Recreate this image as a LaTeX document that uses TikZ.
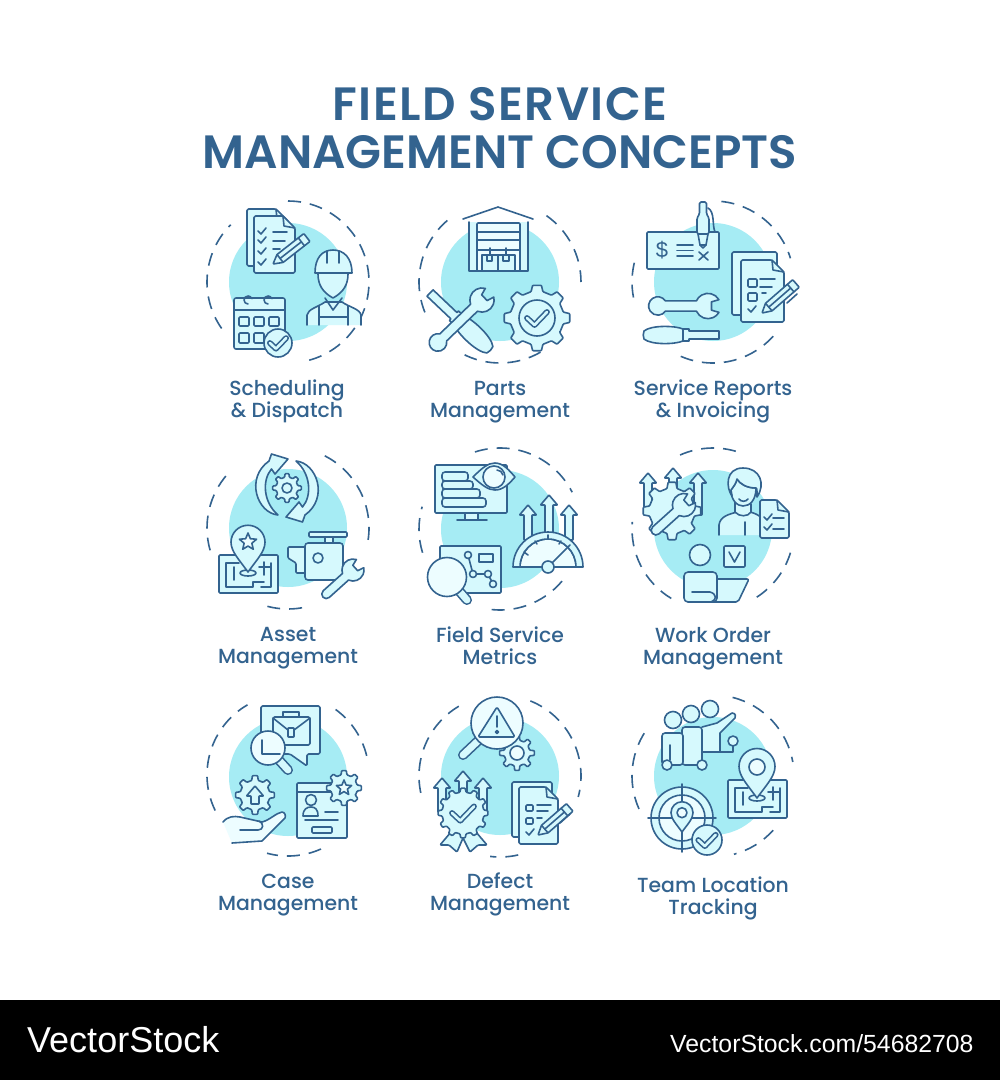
\documentclass[tikz,border=0pt]{standalone}
\usepackage{fontspec}
\setmainfont{Poppins}
\newfontfamily\headfont{Poppins SemiBold}
\newfontfamily\labelfont{Poppins Medium}
\newfontfamily\markfont{Liberation Sans}
\definecolor{inkblue}{HTML}{33638F}
\definecolor{blobblue}{HTML}{A6ECF4}
\definecolor{tintblue}{HTML}{D6F9FD}
\definecolor{paleblue}{HTML}{EDFDFF}

% background disc and broken ring
\newcommand{\spot}[2]{\fill[blob] (#1,#2) circle[radius=59];}
\newcommand{\ringarc}[4]{\draw[ring] (#1,#2) ++(#3:81) arc[start angle=#3,end angle=#4,radius=81];}

% small parts
\newcommand{\sheet}[4]{
    \draw[tint,rounded corners=1.5pt] (#1,#2) -- ({#3-12},#2) -- (#3,{#2+12}) -- (#3,#4) -- (#1,#4) -- cycle;
    \draw[ink] ({#3-12},#2) -- ({#3-11},{#2+10}) -- (#3,{#2+12});
}
\newcommand{\pencil}[4]{
    \begin{scope}[shift={(#1,#2)},rotate=#3]
        \draw[tint,rounded corners=.8pt] (0,0) -- (9,-5) -- (#4,-5) -- (#4,5) -- (9,5) -- cycle;
        \draw[ink] ({#4-7},-5) -- ({#4-7},5) (9,-5) -- (9,5);
        \draw[ink] (9,0) -- ({#4-7},0);
    \end{scope}
}
\newcommand{\spanner}[5]{
    \begin{scope}[shift={(#1,#2)},rotate=#3,scale=#4]
        \draw[tint] (9.5,-5.5) arc[start angle=330,end angle=204,radius=11] -- (-#5,-4.5)
            arc[start angle=270,end angle=90,radius=4.5] -- (-10.05,4.5)
            arc[start angle=156,end angle=30,radius=11] -- (3,3.6) -- (3,-3.6) -- cycle;
    \end{scope}
}
\newcommand{\ballspanner}[5]{
    \begin{scope}[shift={(#1,#2)},rotate=#3,scale=#4]
        \draw[tint] (9.5,-5.5) arc[start angle=330,end angle=204,radius=11] -- (-#5,-4.5)
            arc[start angle=326,end angle=34,radius=8] -- (-10.05,4.5)
            arc[start angle=156,end angle=30,radius=11] -- (3,3.6) -- (3,-3.6) -- cycle;
    \end{scope}
}
\newcommand{\driver}[4]{
    \begin{scope}[shift={(#1,#2)},rotate=#3,scale=#4]
        \draw[tint] (0,-4) -- (-30,-4) -- (-30,-6) -- (-36,-6)
            .. controls (-44,-9.5) and (-68,-10) .. (-75,-4) .. controls (-76,-1) and (-76,1) .. (-75,4)
            .. controls (-68,10) and (-44,9.5) .. (-36,6) -- (-30,6) -- (-30,4) -- (0,4) -- cycle;
        \draw[ink] (-36,-6) -- (-36,6);
    \end{scope}
}
\newcommand{\gear}[5]{
    \begin{scope}[shift={(#1,#2)}]
        \pgfmathsetmacro{\gs}{360/#5}
        \draw[tint,rounded corners=.8pt] ({.72*\gs}:#4)
            \foreach \t [evaluate=\t as \a using \t*\gs] in {1,...,#5}{
                -- ({\a-.28*\gs}:#4) -- ({\a-.17*\gs}:#3) -- ({\a+.17*\gs}:#3) -- ({\a+.28*\gs}:#4)
            } -- cycle;
    \end{scope}
}
\newcommand{\hollowtick}[3]{
    \foreach \lw/\cc in {5.8/inkblue,2.6/tintblue}{
        \draw[\cc,line width=\lw pt,line cap=round,line join=round] ({#1-#3},#2) -- ({#1-.25*#3},{#2+.7*#3}) -- ({#1+#3},{#2-.6*#3});
    }
}
\newcommand{\badge}[3]{
    \draw[tint] (#1,#2) circle[radius=#3];
    \hollowtick{#1}{#2}{.58*#3}
}
\newcommand{\tick}[2]{\draw[ink] (#1,#2) -- ({#1+3},{#2+3}) -- ({#1+8},{#2-3});}
\newcommand{\updart}[3]{
    \draw[tint,rounded corners=.5pt] (#1,#2) -- ({#1+8.5},{#2+10}) -- ({#1+4},{#2+10}) -- ({#1+4},#3)
        -- ({#1-4},#3) -- ({#1-4},{#2+10}) -- ({#1-8.5},{#2+10}) -- cycle;
}
\newcommand{\pinmark}[3]{
    \begin{scope}[shift={(#1,#2)},scale=#3]
        \draw[tint] (0,0) .. controls (-.5,-.7) and (-1,-1.2) .. (-1,-1.75)
            arc[start angle=180,end angle=360,radius=1] .. controls (1,-1.2) and (.5,-.7) .. (0,0) -- cycle;
    \end{scope}
}
\newcommand{\starmark}[3]{
    \begin{scope}[shift={(#1,#2)}]
        \draw[tint,fill=paleblue] (270:#3) \foreach \t [evaluate=\t as \a using 270+\t*36, evaluate=\t as \r using {isodd(\t) ? .45*#3 : #3}] in {1,...,9}{ -- (\a:\r) } -- cycle;
    \end{scope}
}
\newcommand{\plan}[2]{
    \begin{scope}[shift={(#1,#2)}]
        \draw[tint,rounded corners=1pt] (0,0) rectangle (59,38);
        \draw[ink] (20,8) -- (7,8) -- (7,32) -- (34,32) -- (34,27) -- (45,27);
        \draw[ink] (15,12) -- (15,25);
        \draw[ink] (45,7) -- (45,20) (40,12) -- (52,12) (52,8) -- (52,32) -- (42,32);
    \end{scope}
}
\newcommand{\lens}[5]{
    \draw[inkblue,line width=10pt,line cap=round] (#1,#2) -- (#4,#5);
    \draw[tintblue,line width=6.8pt,line cap=round] (#1,#2) -- (#4,#5);
    \draw[ink,fill=paleblue] (#1,#2) circle[radius=#3];
}

\begin{document}
\begin{tikzpicture}[
    x=1pt, y=-1pt,
    blob/.style={fill=blobblue, draw=none},
    ring/.style={draw=inkblue, line width=1.6pt, dash pattern=on 13pt off 9pt},
    ink/.style={draw=inkblue, line width=1.6pt, line join=round, line cap=round},
    tint/.style={ink, fill=tintblue},
    headline/.style={text=inkblue, align=center, inner sep=0pt, font=\headfont\fontsize{46.7}{48}\selectfont},
    caption/.style={text=inkblue, align=center, inner sep=0pt, font=\labelfont\fontsize{20.4}{22}\selectfont},
    brand/.style={text=white, inner sep=0pt, anchor=base west, font=\markfont}
]
    \useasboundingbox (0,0) rectangle (1000,1080);
    \fill[white] (0,0) rectangle (1000,1000);
    \fill[black] (0,1000) rectangle (1000,1080);

    % Title
    \node[headline] (title) at (500,128) {{\addfontfeatures{LetterSpace=3.2}FIELD SERVICE}\\MANAGEMENT CONCEPTS};

    % Scheduling
    \spot{288}{282}
    \ringarc{288}{282}{270}{440}
    \ringarc{288}{282}{145}{225}
    \sheet{247}{209}{288}{266}
    \sheet{254}{216}{295}{273}
    \tick{258}{231} \tick{258}{240} \tick{258}{251} \tick{258}{262}
    \draw[ink] (273,232) -- (287,232) (273,241) -- (285,241) (273,249) -- (280,249);
    \pencil{273}{264}{38}{43}
    \draw[tint] (315,273) .. controls (315,258) and (322,250) .. (333,250) .. controls (344,250) and (352,258) .. (352,273) -- cycle;
    \draw[ink] (327,251) -- (327,263) (339,251) -- (339,263);
    \draw[ink,fill=tintblue] (307,325) -- (307,315) .. controls (308,309) and (318,307) .. (325,302) -- (342,302)
        .. controls (349,307) and (360,309) .. (361,315) -- (361,325);
    \draw[ink,fill=tintblue] (318,274) .. controls (318,284) and (322,292) .. (333,298) .. controls (344,292) and (348,284) .. (348,274);
    \draw[ink] (325,298) -- (333,310) -- (342,298);
    \draw[ink] (319,306) -- (319,325) (348,306) -- (348,325) (319,317) -- (348,317);
    \draw[tint,rounded corners=2pt] (234,298) rectangle (285,349);
    \draw[ink] (234,310) -- (285,310);
    \draw[ink] (248,304) arc[start angle=90,end angle=340,radius=4] (268,304) arc[start angle=90,end angle=340,radius=4];
    \foreach \cx in {239,254,269}{
        \draw[ink,rounded corners=1pt] (\cx,317) rectangle ++(10,9);
    }
    \foreach \cx in {239,254}{
        \draw[ink,rounded corners=1pt] (\cx,333) rectangle ++(10,10);
    }
    \badge{278}{343}{14}
    \node[caption] (scheduling) at (287,401) {Scheduling\\\& Dispatch};

    % Parts
    \spot{500}{282}
    \ringarc{500}{282}{305}{360}
    \ringarc{500}{282}{60}{118}
    \ringarc{500}{282}{158}{232}
    \draw[tint] (469,222) -- (469,271) -- (528,271) -- (528,222);
    \draw[ink] (463,219) -- (498,207) -- (533,219);
    \draw[ink,fill=paleblue,rounded corners=1pt] (477,223) rectangle (520,271);
    \draw[ink] (477,232) -- (520,232) (477,240) -- (520,240) (477,250) -- (520,250);
    \draw[tint] (482,255) rectangle (498,271) (498,255) rectangle (515,271);
    \draw[ink] (487,255) -- (487,261) -- (492,261) -- (492,255) (503,255) -- (503,261) -- (509,261) -- (509,255);
    \draw[ink] (490,248) -- (490,255) (506,248) -- (506,255);
    \driver{430}{293}{136.5}{1.1}
    \ballspanner{482}{300}{44}{1.1}{49}
    \gear{537}{318}{33}{27}{8}
    \draw[tint] (537,318) circle[radius=18];
    \hollowtick{537}{318}{10}
    \node[caption] (parts) at (500,402) {Parts\\Management};

    % Service Reports
    \spot{713}{282}
    \ringarc{713}{282}{276}{343}
    \ringarc{713}{282}{42}{118}
    \ringarc{713}{282}{169}{196}
    \draw[tint,rounded corners=1pt] (647,232) rectangle (719,269);
    \node[inkblue,font=\markfont\fontsize{22}{22}\selectfont,inner sep=0pt] (dollar) at (662,250) {\$};
    \draw[ink] (677,245) -- (693,245) (677,250.5) -- (693,250.5) (677,256) -- (693,256);
    \draw[ink] (699,252) -- (708,260) (708,252) -- (699,260);
    \draw[ink] (708,208) .. controls (715,212) and (712,225) .. (715,232);
    \draw[tint,rounded corners=1.5pt] (699.5,214) -- (699.5,202) -- (706.5,202) -- (706.5,214) -- (709,218) -- (709,234) -- (697,234) -- (697,218) -- cycle;
    \draw[tint] (698,234) -- (700,245) -- (703,248) -- (706,245) -- (708,234) -- cycle;
    \draw[ink] (700,245) -- (706,245);
    \draw[tint,rounded corners=1.5pt] (732,252) rectangle (777,315);
    \sheet{741}{260}{784}{322}
    \draw[ink,rounded corners=1pt] (748,279) rectangle (757,287) (748,293) rectangle (757,301);
    \draw[ink] (760,279) -- (775,279) (760,287) -- (772,287) (762,293) -- (766,293);
    \tick{748}{309}
    \pencil{762}{313}{41}{45}
    \draw[ink] (787,303) -- (797,294);
    \ballspanner{708}{306}{0}{1.15}{37}
    \driver{719}{335}{0}{1}
    \node[caption] (reports) at (713,401) {Service Reports\\\& Invoicing};

    % Asset
    \spot{288}{528}
    \ringarc{288}{528}{297}{369}
    \ringarc{288}{528}{80}{109}
    \ringarc{288}{528}{164}{222}
    \gear{287}{488}{14.5}{11}{8}
    \draw[ink] (287,488) circle[radius=5];
    \begin{scope}[shift={(287,488)}]
        \foreach \turn in {0,180}{
            \draw[tint,rotate=\turn] (-9,27) .. controls (-30,25) and (-42,-10) .. (-18,-27) -- (-15.5,-34) -- (1,-29) -- (-12,-14) -- (-15.5,-19) .. controls (-25,-8) and (-24,14) .. (-9,27) -- cycle;
        }
    \end{scope}
    \plan{219}{555}
    \draw[tint] (248,573) ellipse[x radius=8,y radius=3];
    \pinmark{248}{572}{17}
    \starmark{248}{542}{9}
    \draw[tint,rounded corners=1pt] (309,532) rectangle (347,537);
    \draw[tint] (325,537) rectangle (333,543);
    \draw[tint,rounded corners=1pt] (288,547) -- (305,547) -- (305,573) -- (296,573) -- (296,563) -- (288,558) -- cycle;
    \draw[tint,rounded corners=3pt] (305,543) rectangle (343,580);
    \draw[tint] (318,558) circle[radius=5];
    \spanner{353}{570}{42}{1}{36}
    \node[caption] (asset) at (288,648) {Asset\\Management};

    % Field Service Metrics
    \spot{500}{529}
    \ringarc{500}{529}{252}{333}
    \ringarc{500}{529}{40}{100}
    \ringarc{500}{529}{163}{196}
    \draw[tint,rounded corners=1pt] (435,465) rectangle (507,513);
    \draw[tint] (465,513) rectangle (478,520);
    \draw[ink] (457,520) -- (487,520);
    \draw[tint,rounded corners=3pt] (442,472) -- (468,472) -- (468,481) -- (442,481) -- cycle;
    \draw[tint,rounded corners=3pt] (442,481) -- (473,481) -- (473,489) -- (442,489) -- cycle;
    \draw[tint,rounded corners=3pt] (442,489) -- (480,489) -- (480,498) -- (442,498) -- cycle;
    \draw[tint,rounded corners=3pt] (442,498) -- (486,498) -- (486,507) -- (442,507) -- cycle;
    \draw[tint] (473,477) .. controls (482,468) and (488,463) .. (495,463) .. controls (503,463) and (509,470) .. (515,477)
        .. controls (509,484) and (503,490) .. (495,490) .. controls (488,490) and (482,485) .. (473,477) -- cycle;
    \draw[ink,fill=paleblue] (494,477) circle[radius=11];
    \draw[ink] (497,470) arc[start angle=270,end angle=350,radius=6];
    \draw[tint,rounded corners=1pt] (440,546) rectangle (501,593);
    \draw[ink] (468,555) -- (473,574) -- (488,574) -- (493,584);
    \foreach \gx/\gy in {468/555,473/574,488/574,493/584}{
        \draw[tint] (\gx,\gy) circle[radius=3.5];
    }
    \draw[ink] (479,554) rectangle (493,562);
    \lens{447}{577}{19.5}{467}{600}
    \updart{528}{505}{540}
    \updart{549}{495}{540}
    \updart{569}{505}{540}
    \draw[ink,fill=paleblue] (520,567) arc[start angle=180,end angle=360,radius=28] -- cycle;
    \draw[tint] (513,567) arc[start angle=180,end angle=360,radius=35] -- (576,567) arc[start angle=360,end angle=180,radius=28] -- cycle;
    \draw[ink] (552,563) -- (570,545);
    \draw[ink] (528,555) -- (524,552) (537,544) -- (535,541) (548,539) -- (548,535) (559,544) -- (561,541);
    \draw[tint] (548,567) circle[radius=6];
    \node[caption] (metrics) at (500,646) {Field Service\\Metrics};

    % Work Order
    \spot{713}{529}
    \ringarc{713}{529}{246}{292}
    \ringarc{713}{529}{17}{58}
    \ringarc{713}{529}{121}{185}
    \updart{648}{473}{515}
    \updart{673}{468}{495}
    \updart{698}{473}{515}
    \gear{672}{511}{29}{23}{8}
    \spanner{684}{505}{42}{1.05}{36}
    \draw[tint] (719,535) -- (719,525) .. controls (720,516) and (730,514) .. (737,512) -- (750,512)
        .. controls (758,514) and (764,518) .. (765,525) -- (765,535);
    \draw[ink] (745,522) -- (745,535);
    \draw[ink,fill=tintblue] (735,500) -- (735,512) .. controls (739,517) and (748,517) .. (751,512) -- (751,504);
    \draw[tint] (731,490) .. controls (731,500) and (737,506) .. (743,506) .. controls (750,506) and (756,500) .. (756,488)
        .. controls (747,488) and (740,484) .. (737,479) .. controls (736,484) and (733,487) .. (731,490) -- cycle;
    \draw[tint] (732,496) .. controls (726,488) and (725,468) .. (743,468) .. controls (760,468) and (766,484) .. (757,497)
        .. controls (757,488) and (757,488) .. (756,488) .. controls (747,488) and (740,484) .. (737,479) .. controls (736,484) and (733,487) .. (731,490) -- cycle;
    \draw[ink] (739,499) .. controls (741,502) and (746,502) .. (748,499);
    \sheet{760}{500}{789}{538}
    \tick{764}{517} \tick{764}{527}
    \draw[ink] (773,518) -- (784,518) (773,529) -- (784,529);
    \draw[tint] (700,555) circle[radius=10.5];
    \draw[tint,rounded corners=1pt] (724,546) rectangle (745,567);
    \draw[ink] (729,552) -- (734.5,562) -- (740,552);
    \draw[tint,rounded corners=2pt] (715,579) -- (749,579) -- (738,602) -- (710,602) -- cycle;
    \draw[tint,rounded corners=4pt] (684,602) -- (684,572) -- (717,572) -- (717,602) -- cycle;
    \draw[ink] (692,592) -- (710,592) .. controls (717,594) and (717,600) .. (711,602);
    \node[caption] (workorder) at (713,649) {Work Order\\Management};

    % Case
    \spot{288}{777}
    \ringarc{288}{775}{306}{352}
    \ringarc{288}{775}{66}{105}
    \ringarc{288}{775}{154}{240}
    \draw[tint,rounded corners=1.5pt] (261,706) -- (320,706) -- (320,754) -- (307,754) -- (307,766) -- (290,754) -- (261,754) -- cycle;
    \draw[tint] (283,717) -- (283,712) -- (299,712) -- (299,717);
    \draw[tint,rounded corners=1.5pt] (273,717) rectangle (310,745);
    \draw[ink] (273,718) -- (288,730) (310,718) -- (294,730);
    \draw[ink,fill=tintblue,rounded corners=.5pt] (288,728) rectangle (294,737);
    \lens{268}{748}{17}{288}{770}
    \draw[ink] (262,740) -- (262,754) -- (280,754);
    \gear{255}{795}{19.5}{15}{8}
    \updart{255}{786}{804}
    \draw[ink,fill=paleblue] (223,822) .. controls (228,816) and (234,816) .. (240,817) -- (262,822)
        .. controls (270,820) and (276,813) .. (282,812) .. controls (285,812) and (286,816) .. (285,818)
        -- (262,841) -- (232,843);
    \draw[ink] (240,830) -- (258,830) .. controls (264,830) and (264,823) .. (259,821);
    \draw[tint,rounded corners=1pt] (297,783) rectangle (347,838);
    \draw[ink] (297,792) -- (332,792);
    \draw[tint] (303,816) .. controls (303,809) and (307,807) .. (311,807) .. controls (315,807) and (318,809) .. (318,816) -- cycle;
    \draw[tint] (311,800) circle[radius=5.5];
    \draw[ink] (305,820) -- (338,820) (325,812) -- (338,812);
    \draw[ink,rounded corners=1pt] (312,827) rectangle (332,833);
    \gear{344}{788}{17.5}{13.5}{8}
    \starmark{344}{788}{8}
    \node[caption] (casebox) at (288,895) {Case\\Management};

    % Defect
    \spot{500}{776}
    \ringarc{500}{776}{292}{375}
    \ringarc{500}{776}{77}{97}
    \ringarc{500}{776}{168}{242}
    \gear{517}{753}{17.5}{13}{8}
    \draw[ink,fill=paleblue] (517,753) circle[radius=7];
    \lens{497}{723}{26}{463}{755}
    \draw[tint,rounded corners=1.5pt] (497,707) -- (515,737) -- (478,737) -- cycle;
    \draw[ink] (497,716) -- (497,727);
    \draw[ink] (497,732) circle[radius=1.6];
    \updart{442}{778}{812}
    \updart{463}{771}{800}
    \updart{483}{778}{812}
    \draw[tint,rounded corners=1pt] (451,832) -- (440,845) -- (449,845) -- (457,852) -- (463,838) -- (470,852) -- (478,845) -- (487,845) -- (476,832) -- cycle;
    \gear{463}{813}{25}{21}{12}
    \hollowtick{463}{813}{11}
    \draw[tint,rounded corners=1.5pt] (512,782) rectangle (552,837);
    \sheet{519}{787}{558}{844}
    \draw[ink,rounded corners=1pt] (526,805) rectangle (533,811) (526,818) rectangle (533,824);
    \draw[ink] (537,805) -- (551,805) (537,811) -- (548,811) (537,818) -- (542,818);
    \tick{526}{832}
    \pencil{538}{835}{41}{42}
    \draw[ink] (560,823) -- (570,814);
    \node[caption] (defect) at (500,894) {Defect\\Management};

    % Team Location
    \spot{713}{776}
    \ringarc{713}{776}{284}{350}
    \ringarc{713}{776}{42}{75}
    \ringarc{713}{776}{156}{218}
    \draw[tint] (702,727) -- (717,723) -- (732,713) .. controls (736,713) and (736,717) .. (735,718) -- (720,733) -- (720,752) -- (700,752);
    \draw[ink] (720,752) -- (733,752) -- (733,741);
    \draw[tint] (733,741) circle[radius=5];
    \draw[tint,rounded corners=3pt] (682,765) -- (682,727) -- (702,727) -- (702,765) -- cycle;
    \draw[tint,rounded corners=3pt] (662,765) -- (662,733) -- (683,733) -- (683,765) -- cycle;
    \draw[ink] (670,745) -- (670,760);
    \draw[tint] (673,720) circle[radius=8.5];
    \draw[tint] (691,714) circle[radius=8.5];
    \draw[tint] (710,709) circle[radius=8.5];
    \draw[tint] (667,765) circle[radius=5];
    \draw[tint] (702,765) circle[radius=5];
    \plan{728}{780}
    \draw[tint] (757,798) ellipse[x radius=8,y radius=3];
    \pinmark{757}{798}{18}
    \draw[ink,fill=paleblue] (757,767) circle[radius=8];
    \draw[tint] (682,818) circle[radius=31];
    \draw[ink,fill=paleblue] (682,818) circle[radius=23];
    \draw[ink] (648,818) -- (716,818) (682,784) -- (682,852);
    \pinmark{682}{832}{11}
    \draw[ink,fill=paleblue] (682,812.7) circle[radius=5];
    \badge{707}{840}{15}
    \node[caption] (teamtrack) at (713,898) {Team Location\\Tracking};

    % Footer
    \node[brand,font=\markfont\fontsize{36}{36}\selectfont] (stock) at (27,1052) {VectorStock};
    \node[brand,font=\markfont\fontsize{24.8}{26}\selectfont] (stockid) at (670,1052) {VectorStock.com/54682708};
\end{tikzpicture}
\end{document}
